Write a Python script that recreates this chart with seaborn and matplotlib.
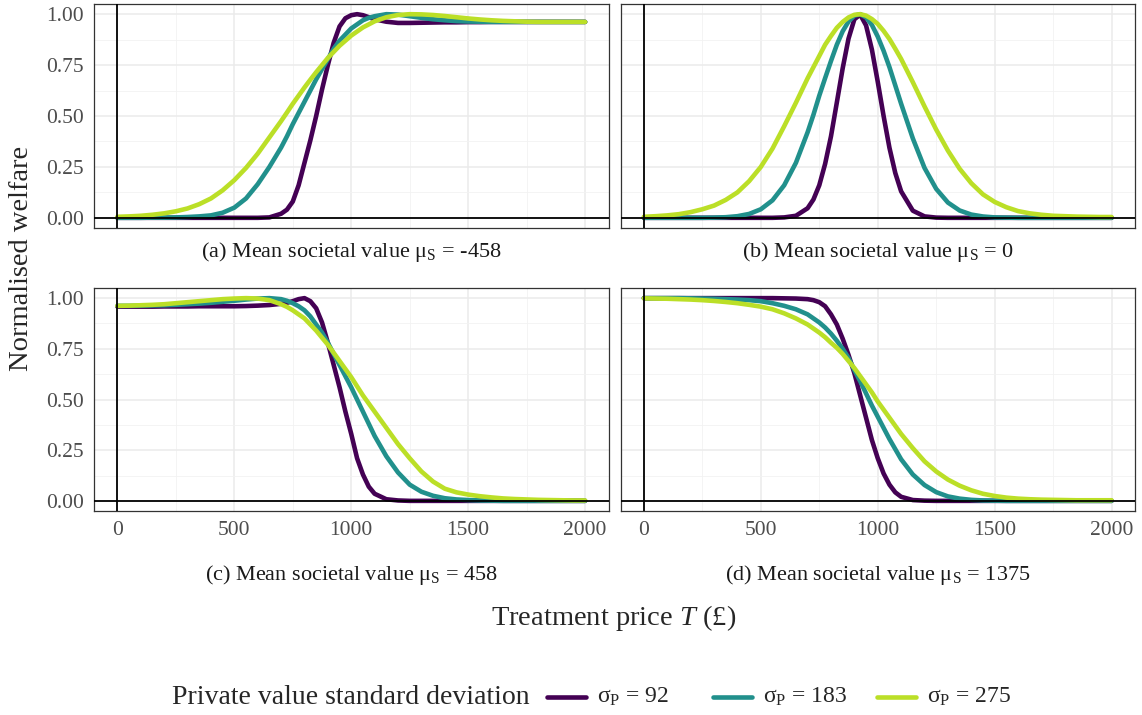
import matplotlib
matplotlib.use("Agg")
import matplotlib.pyplot as plt
from matplotlib.lines import Line2D
import numpy as np
import pandas as pd
import seaborn as sns

# ---------------- data ----------------
price = [0, 50, 100, 150, 200, 250, 300, 350, 400, 450, 500, 550, 600, 650, 700,
         725, 750, 775, 800, 825, 850, 875, 900, 925, 950, 975, 1000, 1025, 1050, 1075, 1100,
         1150, 1200, 1250, 1300, 1350, 1400, 1450, 1500, 1550,
         1600, 1650, 1700, 1750, 1800, 1850, 1900, 1950, 2000]

sigma_labels = ["92", "183", "275"]
panel_titles = ["(a) Mean societal value $\\mathrm{μ_S}$ = -458",
                "(b) Mean societal value $\\mathrm{μ_S}$ = 0",
                "(c) Mean societal value $\\mathrm{μ_S}$ = 458",
                "(d) Mean societal value $\\mathrm{μ_S}$ = 1375"]
x_ticks = [0, 500, 1000, 1500, 2000]
y_ticks = [0.00, 0.25, 0.50, 0.75, 1.00]

# panel (a) mu_S = -458
a_92 = [0, 0, 0, 0, 0, 0, 0, 0, 0, 0, 0, 0, 0, 0.002, 0.02,
        0.04, 0.08, 0.16, 0.27, 0.38, 0.50, 0.63, 0.75, 0.86, 0.94, 0.98, 0.995, 1.0, 0.995, 0.985, 0.975,
        0.963, 0.957, 0.957, 0.958, 0.959, 0.96, 0.96, 0.961, 0.961,
        0.962, 0.962, 0.962, 0.962, 0.962, 0.962, 0.962, 0.962, 0.962]
a_183 = [0, 0, 0, 0.001, 0.001, 0.002, 0.004, 0.007, 0.012, 0.025, 0.05, 0.095, 0.165, 0.25, 0.345,
         0.40, 0.46, 0.515, 0.57, 0.625, 0.68, 0.73, 0.78, 0.83, 0.87, 0.90, 0.93, 0.95, 0.97, 0.982, 0.99,
         1.0, 0.998, 0.99, 0.982, 0.975, 0.97, 0.966, 0.964, 0.963,
         0.962, 0.962, 0.962, 0.962, 0.962, 0.962, 0.962, 0.962, 0.962]
a_275 = [0.005, 0.007, 0.01, 0.015, 0.022, 0.032, 0.046, 0.067, 0.095, 0.135, 0.185, 0.245, 0.315, 0.395, 0.475,
         0.517, 0.56, 0.60, 0.64, 0.678, 0.715, 0.75, 0.785, 0.815, 0.845, 0.87, 0.895, 0.915, 0.935, 0.95, 0.965,
         0.985, 0.996, 1.0, 0.999, 0.996, 0.991, 0.985, 0.979, 0.974,
         0.97, 0.967, 0.965, 0.963, 0.962, 0.962, 0.962, 0.962, 0.962]

# panel (b) mu_S = 0
b_92 = [0, 0, 0, 0, 0, 0, 0, 0, 0, 0, 0, 0, 0.002, 0.01, 0.047,
        0.09, 0.16, 0.265, 0.40, 0.566, 0.734, 0.88, 0.975, 0.998, 0.945, 0.826, 0.668, 0.50, 0.344, 0.22, 0.13,
        0.035, 0.007, 0.001, 0, 0, 0, 0, 0, 0,
        0, 0, 0, 0, 0, 0, 0, 0, 0]
b_183 = [0, 0, 0, 0, 0, 0, 0.001, 0.003, 0.008, 0.019, 0.042, 0.086, 0.16, 0.27, 0.42,
         0.506, 0.60, 0.686, 0.77, 0.85, 0.916, 0.964, 0.993, 1.0, 0.984, 0.947, 0.89, 0.82, 0.74, 0.65, 0.56,
         0.39, 0.245, 0.142, 0.075, 0.036, 0.016, 0.0065, 0.002, 0.001,
         0, 0, 0, 0, 0, 0, 0, 0, 0]
b_275 = [0.005, 0.008, 0.012, 0.018, 0.028, 0.042, 0.06, 0.088, 0.125, 0.18, 0.25, 0.34, 0.45, 0.565, 0.685,
         0.74, 0.795, 0.85, 0.893, 0.933, 0.962, 0.984, 0.997, 1.0, 0.993, 0.976, 0.952, 0.918, 0.878, 0.83, 0.78,
         0.666, 0.547, 0.433, 0.33, 0.241, 0.17, 0.115, 0.078, 0.052,
         0.033, 0.022, 0.015, 0.01, 0.008, 0.006, 0.005, 0.004, 0.004]

# panel (c) mu_S = 458
c_92 = [0.958, 0.958, 0.958, 0.958, 0.959, 0.959, 0.959, 0.96, 0.96, 0.96, 0.96, 0.961, 0.963, 0.966, 0.972,
        0.977, 0.985, 0.995, 1.0, 0.985, 0.95, 0.88, 0.78, 0.67, 0.56, 0.44, 0.33, 0.21, 0.13, 0.07, 0.035,
        0.008, 0.002, 0, 0, 0, 0, 0, 0, 0,
        0, 0, 0, 0, 0, 0, 0, 0, 0]
c_183 = [0.962, 0.962, 0.963, 0.964, 0.965, 0.967, 0.97, 0.973, 0.977, 0.982, 0.987, 0.993, 0.998, 1.0, 0.995,
         0.987, 0.975, 0.96, 0.94, 0.91, 0.87, 0.83, 0.78, 0.725, 0.67, 0.615, 0.56, 0.50, 0.44, 0.38, 0.32,
         0.22, 0.14, 0.08, 0.045, 0.025, 0.013, 0.007, 0.004, 0.002,
         0.001, 0, 0, 0, 0, 0, 0, 0, 0]
c_275 = [0.962, 0.963, 0.965, 0.967, 0.97, 0.975, 0.98, 0.985, 0.99, 0.995, 0.998, 1.0, 0.998, 0.99, 0.97,
         0.957, 0.94, 0.92, 0.90, 0.87, 0.84, 0.805, 0.77, 0.73, 0.69, 0.65, 0.61, 0.565, 0.52, 0.48, 0.44,
         0.36, 0.28, 0.21, 0.145, 0.095, 0.06, 0.042, 0.031, 0.023,
         0.017, 0.012, 0.009, 0.007, 0.005, 0.004, 0.003, 0.002, 0.002]

# panel (d) mu_S = 1375
d_92 = [1.0, 1.0, 1.0, 1.0, 1.0, 1.0, 1.0, 1.0, 1.0, 1.0, 1.0, 1.0, 0.999, 0.998, 0.995,
        0.99, 0.98, 0.96, 0.92, 0.87, 0.80, 0.72, 0.63, 0.52, 0.41, 0.30, 0.21, 0.135, 0.08, 0.042, 0.02,
        0.004, 0.001, 0, 0, 0, 0, 0, 0, 0,
        0, 0, 0, 0, 0, 0, 0, 0, 0]
d_183 = [1.0, 1.0, 1.0, 1.0, 0.999, 0.998, 0.997, 0.995, 0.993, 0.99, 0.985, 0.975, 0.962, 0.945, 0.92,
         0.90, 0.88, 0.855, 0.825, 0.79, 0.75, 0.705, 0.645, 0.59, 0.53, 0.47, 0.415, 0.36, 0.305, 0.255, 0.205,
         0.13, 0.078, 0.043, 0.022, 0.011, 0.005, 0.002, 0.001, 0,
         0, 0, 0, 0, 0, 0, 0, 0, 0]
d_275 = [0.999, 0.998, 0.997, 0.995, 0.993, 0.99, 0.986, 0.981, 0.975, 0.967, 0.958, 0.945, 0.925, 0.90, 0.87,
         0.85, 0.83, 0.807, 0.78, 0.755, 0.725, 0.69, 0.655, 0.615, 0.575, 0.535, 0.49, 0.45, 0.41, 0.37, 0.33,
         0.26, 0.195, 0.145, 0.105, 0.075, 0.052, 0.035, 0.024, 0.016,
         0.011, 0.008, 0.006, 0.005, 0.004, 0.003, 0.003, 0.003, 0.003]

panels = [[a_92, a_183, a_275], [b_92, b_183, b_275],
          [c_92, c_183, c_275], [d_92, d_183, d_275]]

# ---------------- style ----------------
sns.set_theme(style="white")
plt.rcParams['font.family'] = ['Liberation Serif', 'DejaVu Serif']
plt.rcParams['mathtext.fontset'] = 'custom'
plt.rcParams['mathtext.rm'] = 'Liberation Serif'
plt.rcParams['mathtext.it'] = 'Liberation Serif:italic'

palette = {"92": "#440154", "183": "#21908C", "275": "#BBDF27"}
LW = 3.3

W, H = 1142, 715
fig = plt.figure(figsize=(W / 100, H / 100), dpi=100)

def ax_rect(l, t, r, b):
    return [l / W, 1 - b / H, (r - l) / W, (b - t) / H]

rects = [ax_rect(94, 4, 608.5, 228), ax_rect(620.5, 4, 1135, 228),
         ax_rect(94, 288, 608.5, 511), ax_rect(620.5, 288, 1135, 511)]
strip_y = [252, 252, 575, 575]

for i, (rect, series) in enumerate(zip(rects, panels)):
    ax = fig.add_axes(rect)
    rows = []
    for lab, vals in zip(sigma_labels, series):
        for t, v in zip(price, vals):
            rows.append({"T": t, "welfare": v, "sigma": lab})
    df = pd.DataFrame(rows)
    ax.axhline(0, color="black", lw=1.3, zorder=3)
    ax.axvline(0, color="black", lw=1.3, zorder=3)
    sns.lineplot(data=df, x="T", y="welfare", hue="sigma", hue_order=sigma_labels,
                 palette=palette, linewidth=LW, legend=False, ax=ax,
                 estimator=None, sort=True)
    for ln in ax.lines:
        ln.set_solid_joinstyle("round")
    ax.set_xlim(-100, 2100)
    ax.set_ylim(-0.05, 1.05)
    ax.set_xticks(x_ticks)
    ax.set_yticks(y_ticks)
    ax.set_xticks([250, 750, 1250, 1750], minor=True)
    ax.set_yticks([0.125, 0.375, 0.625, 0.875], minor=True)
    ax.grid(True, which="major", color="#EBEBEB", lw=1.1, zorder=0)
    ax.grid(True, which="minor", color="#F2F2F2", lw=0.6, zorder=0)
    ax.set_axisbelow(True)
    for sp in ax.spines.values():
        sp.set_color("#333333")
        sp.set_linewidth(0.9)
        sp.set_visible(True)
    ax.set_xlabel("")
    ax.set_ylabel("")
    ax.tick_params(which="minor", length=0)
    ax.tick_params(which="major", length=4.5, width=0.9, color="#333333",
                   labelsize=15.5, labelcolor="#4D4D4D", pad=3)
    if i in (0, 1):
        ax.tick_params(axis="x", length=0, labelbottom=False)
    else:
        ax.set_xticklabels([str(v) for v in x_ticks])
    if i in (1, 3):
        ax.tick_params(axis="y", length=0, labelleft=False)
    else:
        ax.set_yticklabels([f"{v:.2f}" for v in y_ticks])
    cx = (rect[0] + rect[2] / 2)
    fig.text(cx, 1 - strip_y[i] / H, panel_titles[i], ha="center", va="center",
             fontsize=16, color="#1A1A1A")

# axis titles
fig.text(614 / W, 1 - 618 / H, "Treatment price $\\mathit{T}$ (£)", ha="center",
         va="center", fontsize=20.5)
fig.text(22 / W, 1 - 258 / H, "Normalised welfare", ha="center", va="center",
         rotation=90, fontsize=20.5)

# legend
ly = 1 - 697 / H
fig.text(172 / W, ly, "Private value standard deviation", ha="left", va="center",
         fontsize=20)
key_x = [(547, 586), (713, 752), (877, 916)]
for (x0, x1), lab in zip(key_x, sigma_labels):
    fig.add_artist(Line2D([x0 / W, x1 / W], [ly, ly], color=palette[lab], lw=LW,
                          transform=fig.transFigure))
    fig.text((x1 + 11) / W, ly, f"$\\mathrm{{σ_P}}$ = {lab}", ha="left", va="center",
             fontsize=17)

fig.savefig("out.png", dpi=100)
